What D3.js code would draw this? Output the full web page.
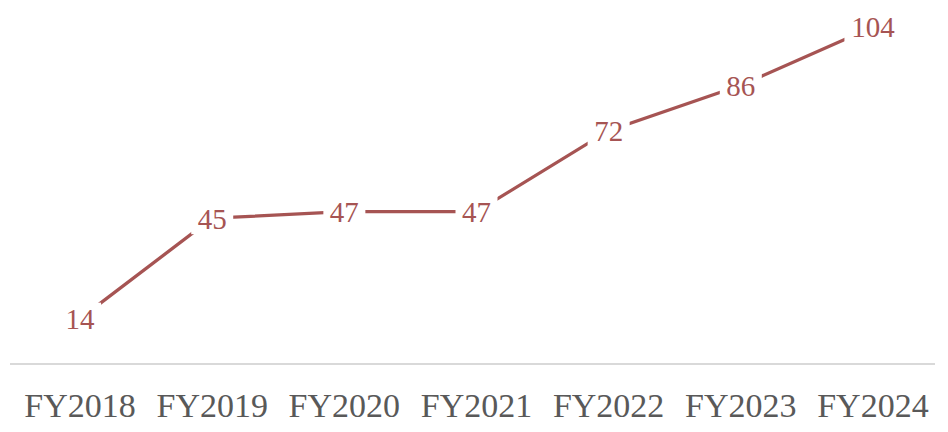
<!DOCTYPE html>
<html>
<head>
<meta charset="utf-8">
<script src="https://cdn.jsdelivr.net/npm/d3@7"></script>
<style>
  body { margin: 0; background: #fff; }
</style>
</head>
<body>
<div id="chart"></div>
<script>
var years = ["FY2018", "FY2019", "FY2020", "FY2021", "FY2022", "FY2023", "FY2024"]
var values = [14, 45, 47, 47, 72, 86, 104]

var width = 948
var height = 432
var lineColor = "#a65453"

var svg = d3.select("#chart")
            .append("svg")
            .attr("width", width)
            .attr("height", height)

var x = d3.scaleBand()
          .domain(years)
          .range([14, 939])

var y = d3.scaleLinear()
          .domain([0, 104])
          .range([364, 27])

// baseline
svg.append("line")
   .attr("x1", 10)
   .attr("x2", 935)
   .attr("y1", y(0))
   .attr("y2", y(0))
   .style("stroke", "#d9d9d9")
   .style("stroke-width", 2)

// category labels
svg.selectAll(".cat")
   .data(years)
   .enter()
   .append("text")
   .attr("class", "cat")
   .attr("x", function(d){ return x(d) + x.bandwidth() / 2 })
   .attr("y", 417)
   .attr("text-anchor", "middle")
   .style("font-family", "Liberation Serif, serif")
   .style("font-size", "34px")
   .style("fill", "#595959")
   .text(function(d){ return d })

var pts = years.map(function(d, i){
    return { year: d, value: values[i] }
})

var line = d3.line()
             .x(function(d){ return x(d.year) + x.bandwidth() / 2 })
             .y(function(d){ return y(d.value) })

svg.append("path")
   .datum(pts)
   .attr("d", line)
   .style("fill", "none")
   .style("stroke", lineColor)
   .style("stroke-width", 3.3)

// data labels with white boxes over the line
var labels = svg.selectAll(".lab")
                .data(pts)
                .enter()
                .append("g")
                .attr("transform", function(d){
                    return "translate(" + (x(d.year) + x.bandwidth() / 2) + "," + y(d.value) + ")"
                })

labels.append("rect")
      .attr("x", function(d){ return -String(d.value).length * 7.5 - 6 })
      .attr("y", -16)
      .attr("width", function(d){ return String(d.value).length * 15 + 12 })
      .attr("height", 32)
      .style("fill", "#fff")

labels.append("text")
      .attr("text-anchor", "middle")
      .attr("dy", "0.36em")
      .style("font-family", "Liberation Serif, serif")
      .style("font-size", "29px")
      .style("fill", lineColor)
      .text(function(d){ return d.value })
</script>
</body>
</html>
